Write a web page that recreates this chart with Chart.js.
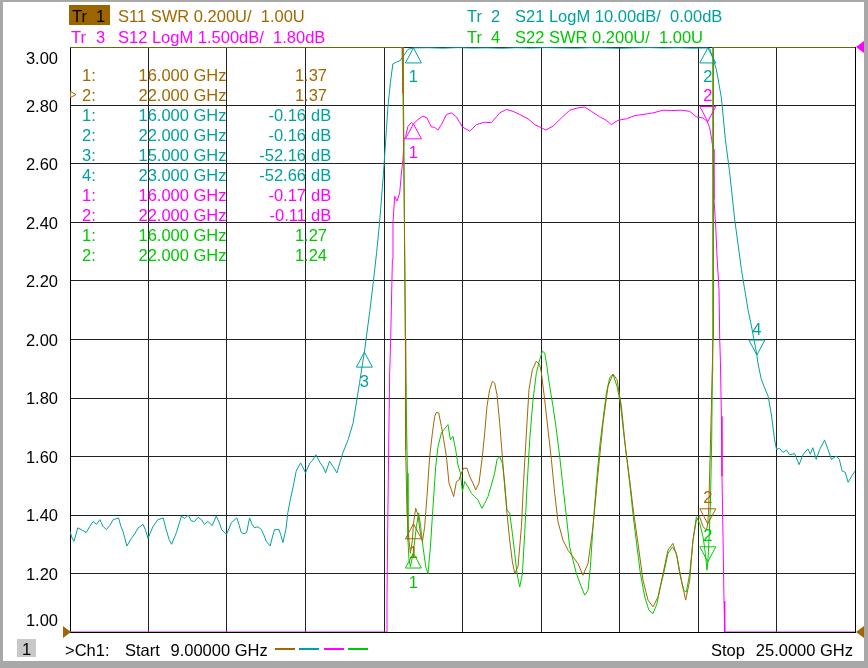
<!DOCTYPE html>
<html>
<head>
<meta charset="utf-8">
<script src="https://cdn.jsdelivr.net/npm/chart.js@4.4.1/dist/chart.umd.min.js"></script>
<style>
html,body{margin:0;padding:0;background:#ffffff;overflow:hidden;}
#wrap{position:relative;width:868px;height:668px;}
canvas{display:block;}
</style>
</head>
<body>
<div id="wrap"><canvas id="c" width="868" height="668"></canvas></div>
<script>
// ---------------- DATA ----------------
const xGridGHz = [9.0, 10.6, 12.2, 13.8, 15.4, 17.0, 18.6, 20.2, 21.8, 23.4, 25.0];
const yTicks = [1.00, 1.20, 1.40, 1.60, 1.80, 2.00, 2.20, 2.40, 2.60, 2.80, 3.00];

// S21 LogM (dB)
const s21Freq = [
 9.00,9.04,9.08,9.16,9.25,9.33,9.40,9.47,9.54,9.61,
 9.67,9.74,9.81,9.88,9.99,10.04,10.08,10.16,10.25,10.32,
 10.39,10.49,10.54,10.59,10.69,10.79,10.90,10.96,11.02,11.07,
 11.17,11.27,11.34,11.41,11.47,11.54,11.61,11.68,11.74,11.81,
 11.90,11.98,12.04,12.09,12.19,12.29,12.40,12.45,12.49,12.55,
 12.60,12.66,12.71,12.76,12.83,12.90,12.95,13.00,13.08,13.13,
 13.17,13.26,13.30,13.34,13.40,13.44,13.49,13.55,13.61,13.70,
 13.75,13.80,13.89,13.95,14.01,14.10,14.16,14.21,14.29,14.36,
 14.44,14.50,14.56,14.67,14.77,14.90,15.00,15.11,15.18,15.25,
 15.31,15.38,15.45,15.48,15.53,15.58,15.65,15.72,15.79,15.89,
 16.00,16.30,16.60,16.90,17.20,17.50,17.80,18.10,18.40,18.70,
 19.00,19.30,19.60,19.90,20.20,20.50,20.80,21.10,21.40,21.70,
 22.00,22.04,22.175,22.277,22.358,22.446,22.548,22.685,22.819,22.889,
 23.00,23.02,23.09,23.16,23.23,23.30,23.36,23.40,23.46,23.53,
 23.60,23.67,23.77,23.86,23.94,24.04,24.09,24.14,24.21,24.28,
 24.38,24.45,24.52,24.62,24.68,24.74,24.80,24.86,24.93,25.00
];
const s21Db = [
 -82.8,-83.9,-84.5,-82.2,-82.6,-83.0,-82.0,-81.1,-81.6,-80.8,
 -81.9,-82.5,-81.8,-80.8,-80.5,-82.0,-82.8,-85.3,-84.0,-83.2,
 -82.2,-81.6,-82.6,-84.0,-82.0,-80.8,-80.5,-82.5,-84.2,-85.0,
 -83.0,-80.2,-80.6,-80.0,-81.0,-81.1,-80.4,-80.8,-81.6,-81.1,
 -81.8,-80.2,-81.2,-82.5,-83.3,-81.3,-80.5,-81.8,-83.0,-83.2,
 -83.0,-80.5,-81.6,-82.2,-82.0,-82.5,-83.4,-84.5,-85.3,-83.6,
 -82.5,-82.5,-83.5,-84.7,-82.5,-79.6,-77.4,-75.1,-72.5,-71.1,
 -71.9,-72.8,-71.1,-70.6,-69.7,-71.1,-71.8,-72.8,-70.8,-71.7,
 -72.8,-71.1,-69.4,-67.1,-64.3,-57.5,-52.16,-45.2,-40.3,-35.1,
 -30.0,-22.6,-14.1,-10.2,-6.1,-2.9,-2.6,-2.4,-1.6,-0.4,
 -0.16,-0.12,-0.20,-0.10,-0.18,-0.14,-0.22,-0.12,-0.18,-0.10,
 -0.15,-0.20,-0.12,-0.16,-0.22,-0.14,-0.10,-0.17,-0.12,-0.20,
 -0.16,-0.30,-3.85,-8.7,-15.8,-21.5,-29.5,-38.0,-44.9,-47.7,
 -52.66,-54.0,-56.8,-58.3,-59.7,-63.1,-67.1,-68.8,-68.6,-69.3,
 -68.9,-69.7,-69.5,-71.4,-69.7,-68.7,-69.6,-68.5,-70.5,-68.8,
 -67.2,-68.8,-70.5,-69.9,-70.5,-72.5,-72.7,-74.4,-73.4,-72.5
];

// S12 LogM (dB)
const s12Freq = [
 9.00,15.455,15.461,15.48,15.50,15.516,15.536,15.571,15.583,15.618,
 15.665,15.72,15.755,15.787,15.808,15.842,15.889,15.958,16.00,16.093,
 16.195,16.276,16.366,16.433,16.501,16.57,16.672,16.774,16.876,16.998,
 17.147,17.283,17.452,17.589,17.691,17.758,17.895,18.029,18.166,18.335,
 18.472,18.608,18.696,18.845,19.016,19.185,19.354,19.491,19.627,19.796,
 19.933,20.035,20.169,20.341,20.51,20.679,20.883,21.087,21.258,21.462,
 21.631,21.767,21.902,21.983,22.038,22.079,22.106,22.126,22.161,22.187,
 22.228,22.243,22.257,22.277,22.289,22.31,22.33,22.345,25.00
];
const s12Db = [
 -13.2,-13.2,-12.3,-10.06,-8.0,-6.55,-5.7,-3.65,-2.7,-2.03,
 -2.15,-1.94,-1.43,-1.08,-0.57,-0.49,-0.23,-0.14,-0.17,-0.06,
 0.03,-0.02,-0.25,-0.26,-0.33,-0.19,0.07,0.11,0.01,-0.25,
 -0.36,-0.19,-0.13,-0.14,0.01,0.11,0.20,0.15,0.07,-0.04,
 -0.19,-0.27,-0.33,-0.23,-0.02,0.18,0.24,0.26,0.15,0.01,
 -0.08,-0.19,-0.08,-0.04,0.04,0.07,0.11,0.18,0.17,0.18,
 0.15,0.01,-0.02,-0.10,-0.27,-0.57,-0.82,-2.11,-2.79,-3.56,
 -4.42,-5.7,-6.26,-7.67,-9.21,-10.75,-12.41,-13.2,-13.2
];

// S11 SWR
const s11Freq = [
 9.00,15.767,15.787,15.808,15.836,15.842,15.869,15.909,15.938,15.979,
 16.00,16.046,16.093,16.142,16.183,16.229,16.276,16.331,16.386,16.433,
 16.468,16.515,16.57,16.617,16.672,16.725,16.774,16.82,16.876,16.929,
 16.977,17.024,17.092,17.147,17.214,17.269,17.336,17.405,17.452,17.499,
 17.554,17.609,17.656,17.703,17.758,17.813,17.86,17.907,17.962,18.017,
 18.064,18.131,18.201,18.247,18.302,18.355,18.425,18.506,18.573,18.608,
 18.675,18.743,18.812,18.879,18.946,19.048,19.15,19.252,19.354,19.456,
 19.558,19.66,19.762,19.864,19.966,20.067,20.149,20.239,20.326,20.408,
 20.489,20.577,20.679,20.781,20.883,20.985,21.087,21.188,21.29,21.372,
 21.462,21.549,21.631,21.698,21.767,21.834,21.902,21.971,22.00,22.02,
 22.038,22.073,22.106,22.115,25.00
];
const s11Swr = [
 3.00,3.00,2.84,2.52,2.00,1.623,1.406,1.314,1.269,1.314,
 1.37,1.423,1.40,1.337,1.309,1.36,1.463,1.60,1.68,1.737,
 1.751,1.749,1.703,1.657,1.60,1.509,1.486,1.463,1.514,1.52,
 1.543,1.56,1.56,1.531,1.509,1.486,1.509,1.60,1.68,1.771,
 1.829,1.857,1.851,1.811,1.714,1.60,1.497,1.406,1.314,1.24,
 1.20,1.223,1.36,1.52,1.68,1.829,1.897,1.926,1.914,1.886,
 1.794,1.691,1.589,1.474,1.377,1.314,1.28,1.257,1.234,1.194,
 1.234,1.36,1.543,1.714,1.84,1.882,1.863,1.771,1.623,1.52,
 1.406,1.303,1.177,1.109,1.086,1.12,1.20,1.28,1.303,1.257,
 1.177,1.109,1.177,1.314,1.383,1.394,1.36,1.349,1.37,1.43,
 1.543,1.771,2.00,3.00,3.00
];

// S22 SWR
const s22Freq = [
 9.00,15.79,15.836,15.857,15.877,15.889,15.909,15.938,15.979,16.00,
 16.011,16.06,16.107,16.148,16.195,16.25,16.297,16.346,16.399,16.454,
 16.501,16.57,16.617,16.704,16.753,16.806,16.861,16.908,16.957,16.998,
 17.045,17.112,17.181,17.249,17.316,17.397,17.452,17.52,17.589,17.656,
 17.703,17.758,17.813,17.86,17.907,17.962,18.017,18.064,18.111,18.166,
 18.221,18.268,18.315,18.37,18.437,18.506,18.573,18.628,18.675,18.71,
 18.777,18.845,18.914,18.981,19.048,19.118,19.185,19.252,19.321,19.423,
 19.491,19.558,19.607,19.66,19.729,19.796,19.864,19.933,20.00,20.067,
 20.149,20.218,20.285,20.353,20.422,20.489,20.557,20.626,20.714,20.801,
 20.883,20.964,21.034,21.101,21.188,21.278,21.36,21.427,21.508,21.563,
 21.631,21.698,21.767,21.834,21.902,21.951,21.983,22.00,22.018,22.052,
 22.079,22.093,22.10,25.00
];
const s22Swr = [
 3.00,3.00,2.00,1.749,1.543,1.314,1.246,1.223,1.257,1.27,
 1.291,1.36,1.406,1.36,1.291,1.223,1.20,1.291,1.429,1.566,
 1.634,1.68,1.691,1.709,1.657,1.669,1.623,1.571,1.543,1.48,
 1.514,1.497,1.474,1.463,1.451,1.423,1.44,1.463,1.503,1.543,
 1.589,1.60,1.577,1.509,1.417,1.406,1.337,1.269,1.20,1.154,
 1.20,1.337,1.497,1.657,1.794,1.886,1.931,1.96,1.954,1.92,
 1.84,1.771,1.691,1.60,1.497,1.394,1.291,1.246,1.20,1.154,
 1.126,1.143,1.223,1.36,1.509,1.634,1.726,1.817,1.869,1.882,
 1.84,1.783,1.68,1.589,1.486,1.383,1.291,1.20,1.12,1.074,
 1.063,1.097,1.154,1.20,1.269,1.291,1.269,1.20,1.143,1.137,
 1.20,1.314,1.394,1.371,1.326,1.269,1.211,1.24,1.291,1.429,
 1.657,1.886,3.00,3.00
];

// Marker table
const mkTrace = ['S11','S11','S21','S21','S21','S21','S12','S12','S22','S22'];
const mkNum   = [1, 2, 1, 2, 3, 4, 1, 2, 1, 2];
const mkFreq  = [16, 22, 16, 22, 15, 23, 16, 22, 16, 22];
const mkVal   = [1.37, 1.37, -0.16, -0.16, -52.16, -52.66, -0.17, -0.11, 1.27, 1.24];

// ---------------- STYLE ----------------
const COL = {S11:'#a06800', S21:'#00a0a0', S12:'#ff00ff', S22:'#00c800'};
const AXIS = {S11:'y', S22:'y', S21:'y21', S12:'y12'};
const FONT = "16.5px 'Liberation Sans', Arial, sans-serif";
const markerDown = {'S11-2':true, 'S21-4':true, 'S12-2':true, 'S22-2':true};

function pts(fr, v){ return fr.map((f,i)=>({x:f, y:v[i]})); }

const ds = (label, fr, v, key) => ({
  label, data: pts(fr, v), yAxisID: AXIS[key],
  borderColor: COL[key], borderWidth: 1, pointRadius: 0, tension: 0, fill: false
});

const overlay = {
  id: 'overlay',
  afterDatasetsDraw(chart){
    const ctx = chart.ctx, ca = chart.chartArea;
    const xs = chart.scales.x;
    ctx.save();
    // plot frame (right)
    ctx.strokeStyle = '#000'; ctx.lineWidth = 1;
    ctx.beginPath();
    ctx.moveTo(Math.round(ca.right)+0.5, ca.top); ctx.lineTo(Math.round(ca.right)+0.5, ca.bottom);
    ctx.stroke();

    // markers on the traces
    ctx.font = FONT; ctx.textAlign = 'center'; ctx.textBaseline = 'middle';
    for (let i=0;i<mkTrace.length;i++){
      const k = mkTrace[i];
      const px = xs.getPixelForValue(mkFreq[i]);
      const py = chart.scales[AXIS[k]].getPixelForValue(mkVal[i]);
      const down = markerDown[k+'-'+mkNum[i]];
      ctx.strokeStyle = COL[k]; ctx.fillStyle = COL[k]; ctx.lineWidth = 1;
      ctx.beginPath();
      if (down){
        ctx.moveTo(px, py); ctx.lineTo(px-8, py-15); ctx.lineTo(px+8, py-15); ctx.closePath();
      } else {
        ctx.moveTo(px, py); ctx.lineTo(px-8, py+15); ctx.lineTo(px+8, py+15); ctx.closePath();
      }
      ctx.stroke();
      ctx.fillText(String(mkNum[i]), px, down ? py-25 : py+30);
    }

    // marker table
    ctx.textBaseline = 'alphabetic';
    for (let i=0;i<mkTrace.length;i++){
      const k = mkTrace[i];
      const base = 81 + i*20;
      ctx.fillStyle = COL[k];
      ctx.textAlign = 'left';
      ctx.fillText(mkNum[i] + ':', 82, base);
      ctx.textAlign = 'right';
      ctx.fillText(mkFreq[i].toFixed(3) + ' GHz', 226.5, base);
      if (k==='S11' || k==='S22'){
        ctx.fillText(mkVal[i].toFixed(2), 327, base);
      } else {
        ctx.fillText(mkVal[i].toFixed(2), 306, base);
        ctx.textAlign = 'left';
        ctx.fillText('dB', 311, base);
      }
    }
    // active marker indicator
    ctx.strokeStyle = COL.S11;
    ctx.beginPath(); ctx.moveTo(70.5,91.5); ctx.lineTo(76,94.5); ctx.lineTo(70.5,97.5); ctx.closePath(); ctx.stroke();

    // y tick labels (Tr 1 scale)
    const ys = chart.scales.y;
    ctx.fillStyle = '#000'; ctx.textAlign = 'right';
    yTicks.forEach((v, idx) => {
      const py = ys.getPixelForValue(v);
      let yy = py + 6;
      if (idx === yTicks.length-1) yy = py + 17;
      if (idx === 0) yy = py - 6;
      ctx.fillText(v.toFixed(2), 58, yy);
    });

    // reference-position triangles
    const yRef1 = ys.getPixelForValue(1.00);
    const yRef3 = chart.scales.y12.getPixelForValue(1.80);
    ctx.fillStyle = COL.S11;
    ctx.beginPath(); ctx.moveTo(63, yRef1-6); ctx.lineTo(71, yRef1); ctx.lineTo(63, yRef1+6); ctx.closePath(); ctx.fill();
    ctx.beginPath(); ctx.moveTo(864, yRef1-6); ctx.lineTo(856, yRef1); ctx.lineTo(864, yRef1+6); ctx.closePath(); ctx.fill();
    ctx.fillStyle = COL.S12;
    ctx.beginPath(); ctx.moveTo(864, yRef3-6); ctx.lineTo(856, yRef3); ctx.lineTo(864, yRef3+6); ctx.closePath(); ctx.fill();

    // header
    ctx.textAlign = 'left';
    ctx.fillStyle = '#9c6500'; ctx.fillRect(69, 5, 41, 20);
    ctx.fillStyle = '#000';
    ctx.fillText('Tr', 72, 21.5); ctx.fillText('1', 96, 21.5);
    ctx.fillStyle = COL.S11; ctx.fillText('S11 SWR 0.200U/  1.00U', 118, 21.5);
    ctx.fillStyle = COL.S21; ctx.fillText('Tr', 467, 21.5); ctx.fillText('2', 491, 21.5);
    ctx.fillText('S21 LogM 10.00dB/  0.00dB', 515, 21.5);
    ctx.fillStyle = COL.S12; ctx.fillText('Tr', 71, 43); ctx.fillText('3', 96, 43);
    ctx.fillText('S12 LogM 1.500dB/  1.80dB', 118, 43);
    ctx.fillStyle = COL.S22; ctx.fillText('Tr', 467, 43); ctx.fillText('4', 491, 43);
    ctx.fillText('S22 SWR 0.200U/  1.00U', 515, 43);

    // bottom status bar
    ctx.fillStyle = '#c8c8c8'; ctx.fillRect(17, 639, 19, 18);
    ctx.fillStyle = '#000'; ctx.textAlign = 'center'; ctx.fillText('1', 26.5, 655);
    ctx.textAlign = 'left';
    ctx.fillText('>Ch1:', 65, 656);
    ctx.fillText('Start', 125, 656);
    ctx.fillText('9.00000 GHz', 170.5, 656);
    ctx.fillText('Stop', 711, 656);
    ctx.textAlign = 'right';
    ctx.fillText('25.0000 GHz', 853, 656);
    const leg = [['S11',275,295],['S21',299,319],['S12',324,344],['S22',348,368]];
    leg.forEach(l => { ctx.fillStyle = COL[l[0]]; ctx.fillRect(l[1], 648, l[2]-l[1], 2); });

    // outer frame
    ctx.fillStyle = '#a8a8a8';
    ctx.fillRect(0, 0, 3, 668);
    ctx.fillRect(864, 0, 4, 668);
    ctx.fillRect(0, 661, 868, 7);
    ctx.fillRect(0, 0, 868, 2);
    ctx.restore();
  }
};

const gridOpts = {color:'#222222', lineWidth:1, drawTicks:false};

new Chart(document.getElementById('c'), {
  type: 'line',
  data: {
    datasets: [
      ds('S11 SWR', s11Freq, s11Swr, 'S11'),
      ds('S22 SWR', s22Freq, s22Swr, 'S22'),
      ds('S12 LogM', s12Freq, s12Db, 'S12'),
      ds('S21 LogM', s21Freq, s21Db, 'S21')
    ]
  },
  options: {
    responsive: false, animation: false, devicePixelRatio: 1,
    layout: {padding: {left: 70, right: 13, top: 47, bottom: 36}},
    plugins: {legend: {display:false}, tooltip: {enabled:false}},
    scales: {
      x: {type:'linear', min:9, max:25, grid: gridOpts,
          border:{display:true, color:'#000'},
          ticks:{display:false},
          afterBuildTicks: s => { s.ticks = xGridGHz.map(v => ({value:v})); }},
      y: {type:'linear', min:1, max:3, position:'left', grid: gridOpts,
          border:{display:true, color:'#000'},
          ticks:{display:false},
          afterBuildTicks: s => { s.ticks = yTicks.map(v => ({value:v})); }},
      y21: {type:'linear', min:-100, max:0, display:false},
      y12: {type:'linear', min:-13.2, max:1.8, display:false}
    }
  },
  plugins: [overlay]
});
</script>
</body>
</html>
